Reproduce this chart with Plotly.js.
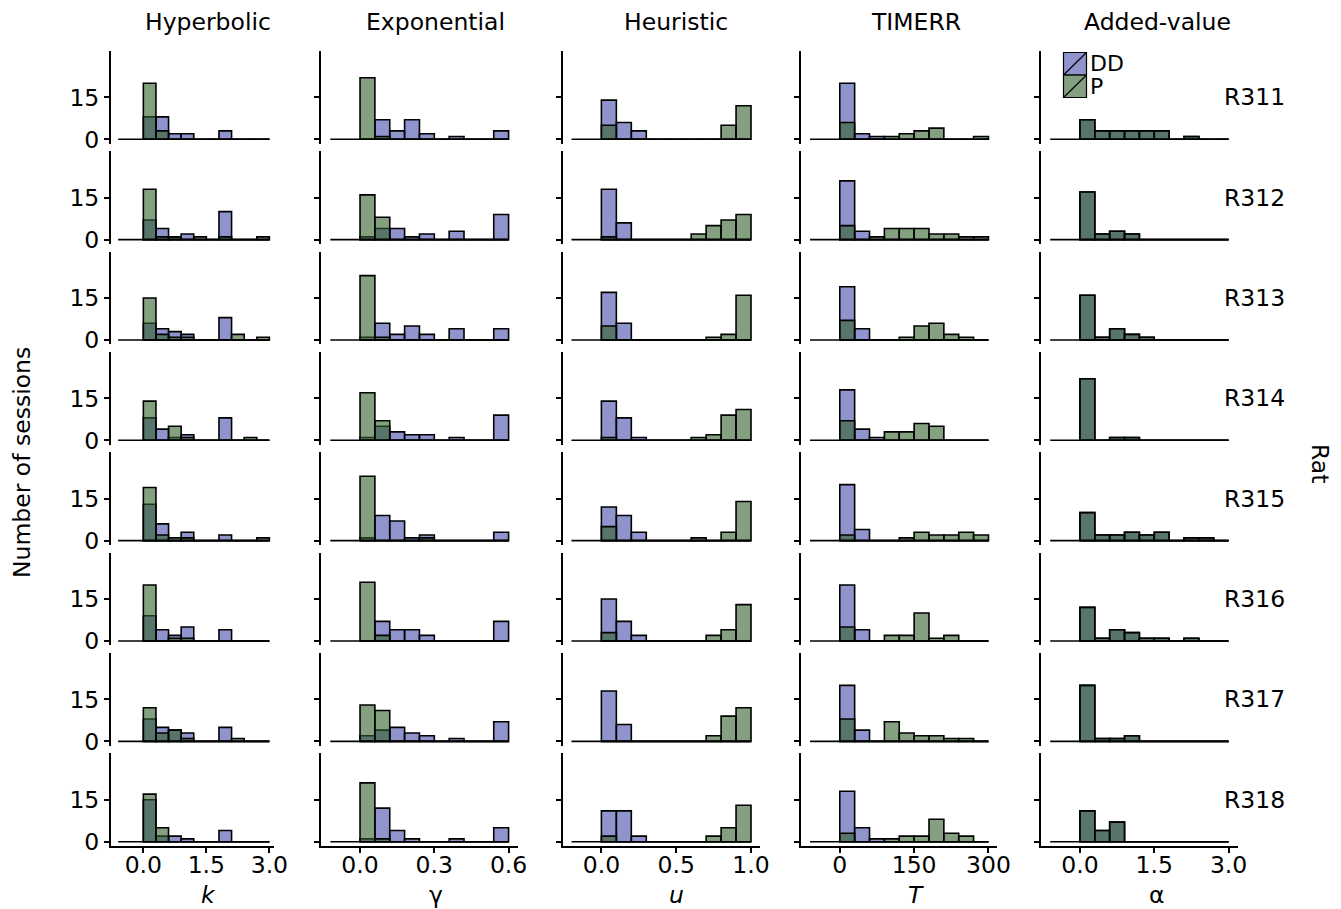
<!DOCTYPE html>
<html>
<head>
<meta charset="utf-8">
<script src="https://cdn.plot.ly/plotly-3.0.1.min.js"></script>
<style>html,body{margin:0;padding:0;background:#fff;}#chart{width:1341px;height:909px;}</style>
</head>
<body>
<div id="chart"></div>
<script>
// ---------- data ----------
const models = ["Hyperbolic", "Exponential", "Heuristic", "TIMERR", "Added-value"];
const rats = ["R311", "R312", "R313", "R314", "R315", "R316", "R317", "R318"];
const conditions = ["DD", "P"];

// bin edges per model parameter
const kEdges = [0, 0.3, 0.6, 0.9, 1.2, 1.5, 1.8, 2.1, 2.4, 2.7, 3.0];
const gammaEdges = [0, 0.06, 0.12, 0.18, 0.24, 0.30, 0.36, 0.42, 0.48, 0.54, 0.60];
const uEdges = [0, 0.1, 0.2, 0.3, 0.4, 0.5, 0.6, 0.7, 0.8, 0.9, 1.0];
const TEdges = [0, 30, 60, 90, 120, 150, 180, 210, 240, 270, 300];
const alphaEdges = [0, 0.3, 0.6, 0.9, 1.2, 1.5, 1.8, 2.1, 2.4, 2.7, 3.0];
// histogram span (includes empty bins)
const kSpan = [-0.6, 3.0];
const gammaSpan = [-0.12, 0.6];
const uSpan = [-0.2, 1.0];
const TSpan = [-60, 300];
const alphaSpan = [-0.6, 3.0];

// tick labels
const kTicks = [0, 1.5, 3.0], kTickText = ["0.0", "1.5", "3.0"];
const gammaTicks = [0, 0.3, 0.6], gammaTickText = ["0.0", "0.3", "0.6"];
const uTicks = [0, 0.5, 1.0], uTickText = ["0.0", "0.5", "1.0"];
const TTicks = [0, 150, 300], TTickText = ["0", "150", "300"];
const alphaTicks = [0, 1.5, 3.0], alphaTickText = ["0.0", "1.5", "3.0"];
const yTicks = [0, 15], yTickText = ["0", "15"];

// counts (rows = rats R311..R318)
const hypDD = [
  [8,8,2,2,0,0,3,0,0,0],
  [7,4,1,2,0,0,10,0,0,0],
  [6,4,3,2,0,0,8,0,0,0],
  [8,4,1,2,0,0,8,0,0,0],
  [13,6,0,3,0,0,2,0,0,0],
  [9,4,2,5,0,0,4,0,0,0],
  [8,5,4,3,0,0,5,0,0,0],
  [15,2,2,1,0,0,4,0,0,0]];
const hypP = [
  [20,3,0,0,0,0,0,0,0,0],
  [18,1,1,0,1,0,1,0,0,1],
  [15,2,1,1,0,0,0,2,0,1],
  [14,0,5,1,0,0,0,0,1,0],
  [19,2,1,1,0,0,0,0,0,1],
  [20,0,1,1,0,0,0,0,0,0],
  [12,3,4,1,0,0,0,1,0,0],
  [17,5,0,0,0,0,0,0,0,0]];
const expDD = [
  [0,7,3,7,2,0,1,0,0,3],
  [1,4,4,1,2,0,3,0,0,9],
  [1,6,2,5,2,0,4,0,0,4],
  [1,5,3,2,2,0,1,0,0,9],
  [1,9,7,1,2,0,0,0,0,3],
  [0,7,4,4,2,0,0,0,0,7],
  [2,4,5,3,2,0,1,0,0,7],
  [1,12,4,1,0,0,1,0,0,5]];
const expP = [
  [22,1,0,0,0,0,0,0,0,0],
  [16,8,0,0,0,0,0,0,0,0],
  [23,1,0,0,0,0,0,0,0,0],
  [17,7,0,0,0,0,0,0,0,0],
  [23,0,0,0,1,0,0,0,0,0],
  [21,2,0,0,0,0,0,0,0,0],
  [13,11,0,0,0,0,0,0,0,0],
  [21,1,0,0,0,0,0,0,0,0]];
const heuDD = [
  [14,6,3,0,0,0,0,0,0,0],
  [18,6,0,0,0,0,0,0,0,0],
  [17,6,0,0,0,0,0,0,0,0],
  [14,8,1,0,0,0,0,0,0,0],
  [12,9,3,0,0,0,0,0,0,0],
  [15,7,2,0,0,0,0,0,0,0],
  [18,6,0,0,0,0,0,0,0,0],
  [11,11,2,0,0,0,0,0,0,0]];
const heuP = [
  [5,0,0,0,0,0,0,0,5,12],
  [1,0,0,0,0,0,2,5,7,9],
  [5,0,0,0,0,0,0,1,2,16],
  [1,0,0,0,0,0,1,2,9,11],
  [5,0,0,0,0,0,1,0,3,14],
  [3,0,0,0,0,0,0,2,4,13],
  [0,0,0,0,0,0,0,2,9,12],
  [2,0,0,0,0,0,0,2,5,13]];
const timDD = [
  [20,2,1,0,0,0,0,0,0,0],
  [21,3,0,0,0,0,0,0,0,0],
  [19,4,0,0,0,0,0,0,0,0],
  [18,4,1,0,0,0,0,0,0,0],
  [20,4,0,0,0,0,0,0,0,0],
  [20,4,0,0,0,0,0,0,0,0],
  [20,4,0,0,0,0,0,0,0,0],
  [18,5,1,0,0,0,0,0,0,0]];
const timP = [
  [6,0,0,1,2,3,4,0,0,1],
  [5,0,1,4,4,4,2,2,1,1],
  [7,0,0,0,1,5,6,2,1,0],
  [7,0,0,3,3,6,5,0,0,0],
  [2,0,0,0,1,3,2,2,3,2],
  [5,0,0,2,2,10,1,2,0,0],
  [8,0,0,7,3,2,2,1,1,0],
  [3,0,0,1,2,2,8,3,2,0]];
// Added-value: DD and P histograms coincide
const addDD = [
  [7,3,3,3,3,3,0,1,0,0],
  [17,2,3,2,0,0,0,0,0,0],
  [16,1,4,2,1,0,0,0,0,0],
  [22,0,1,1,0,0,0,0,0,0],
  [10,2,2,3,2,3,0,1,1,0],
  [12,1,4,3,1,1,0,1,0,0],
  [20,1,1,2,0,0,0,0,0,0],
  [11,4,7,0,0,0,0,0,0,0]];
const addP = addDD;

// ---------- styling / layout ----------
const W = 1341, H = 909;
const FONT = "DejaVu Sans, Liberation Sans, Arial, sans-serif";
const FS = 23.5;
const ddFill = "rgba(68,77,170,0.6)";
const pFill = "rgba(52,97,43,0.6)";

const cols = [
  {edges: kEdges, span: kSpan, tv: kTicks, tt: kTickText, dd: hypDD, p: hypP, range: [-0.77, 3.11], L: 111, R: 274, cx: 208.5, xt: "<i>k</i>"},
  {edges: gammaEdges, span: gammaSpan, tv: gammaTicks, tt: gammaTickText, dd: expDD, p: expP, range: [-0.156, 0.636], L: 321.4, R: 517.5, cx: 435.5, xt: "γ"},
  {edges: uEdges, span: uSpan, tv: uTicks, tt: uTickText, dd: heuDD, p: heuP, range: [-0.26, 1.06], L: 562.5, R: 760, cx: 676, xt: "<i>u</i>"},
  {edges: TEdges, span: TSpan, tv: TTicks, tt: TTickText, dd: timDD, p: timP, range: [-78, 318], L: 801.1, R: 997.4, cx: 916, xt: "<i>T</i>"},
  {edges: alphaEdges, span: alphaSpan, tv: alphaTicks, tt: alphaTickText, dd: addDD, p: addP, range: [-0.78, 3.18], L: 1041.3, R: 1237.5, cx: 1157, xt: "α"}
];
const yRange = [-1.5, 31.5];
const base0 = 139.3, rowStep = 100.34, pxU = 2.8;

const traces = [];
const layout = {
  width: W, height: H,
  margin: {l: 0, r: 0, t: 0, b: 0},
  paper_bgcolor: "#ffffff", plot_bgcolor: "rgba(0,0,0,0)",
  barmode: "overlay", showlegend: false,
  font: {family: FONT, size: FS, color: "#000"},
  annotations: [], shapes: []
};

for (let r = 0; r < rats.length; r++) {
  const base = base0 + r * rowStep;
  const top = base - yRange[1] * pxU, bot = base - yRange[0] * pxU;
  for (let c = 0; c < cols.length; c++) {
    const col = cols[c];
    const idx = r * cols.length + c + 1;
    const xs = idx === 1 ? "" : String(idx);
    const centers = [], widths = [];
    for (let i = 0; i < col.edges.length - 1; i++) {
      centers.push((col.edges[i] + col.edges[i + 1]) / 2);
      widths.push(col.edges[i + 1] - col.edges[i]);
    }
    traces.push({type: "scatter", mode: "lines", x: col.span, y: [0, 0], xaxis: "x" + xs, yaxis: "y" + xs,
      line: {color: "#000", width: 1.6}, hoverinfo: "skip"});
    traces.push({type: "bar", name: conditions[0], x: centers, y: col.dd[r], width: widths, xaxis: "x" + xs, yaxis: "y" + xs,
      marker: {color: ddFill, line: {color: "#000", width: 1.6}}, hoverinfo: "skip"});
    traces.push({type: "bar", name: conditions[1], x: centers, y: col.p[r], width: widths, xaxis: "x" + xs, yaxis: "y" + xs,
      marker: {color: pFill, line: {color: "#000", width: 1.6}}, hoverinfo: "skip"});
    const isBottom = r === rats.length - 1;
    layout["xaxis" + xs] = {
      domain: [col.L / W, col.R / W], range: col.range, anchor: "y" + xs,
      showgrid: false, zeroline: false, showline: isBottom, linecolor: "#000", linewidth: 2,
      ticks: isBottom ? "outside" : "", ticklen: 5, tickwidth: 2, tickcolor: "#000",
      tickvals: col.tv, ticktext: col.tt, showticklabels: isBottom, ticklabelstandoff: -8,
      tickfont: {family: FONT, size: FS, color: "#000"}, fixedrange: true
    };
    layout["yaxis" + xs] = {
      domain: [1 - bot / H, 1 - top / H], range: yRange, anchor: "x" + xs,
      showgrid: false, zeroline: false, showline: true, linecolor: "#000", linewidth: 2,
      ticks: "outside", ticklen: 5, tickwidth: 2, tickcolor: "#000",
      tickvals: yTicks, ticktext: yTickText, showticklabels: c === 0,
      tickfont: {family: FONT, size: FS, color: "#000"}, fixedrange: true
    };
  }
  // rat strip label
  layout.annotations.push({text: rats[r], xref: "paper", yref: "paper", x: 1222 / W, y: 1 - (top + bot) / 2 / H,
    xanchor: "left", yanchor: "middle", showarrow: false, font: {family: FONT, size: FS, color: "#000"}});
}

// column titles and axis titles
cols.forEach((col, c) => {
  layout.annotations.push({text: models[c], xref: "paper", yref: "paper", x: col.cx / W, y: 1 - 22 / H,
    xanchor: "center", yanchor: "middle", showarrow: false, font: {family: FONT, size: FS, color: "#000"}});
  layout.annotations.push({text: col.xt, xref: "paper", yref: "paper", x: col.cx / W, y: 1 - 895 / H,
    xanchor: "center", yanchor: "middle", showarrow: false, font: {family: FONT, size: FS, color: "#000"}});
});
layout.annotations.push({text: "Number of sessions", xref: "paper", yref: "paper", x: 22 / W, y: 1 - 463 / H,
  textangle: -90, xanchor: "center", yanchor: "middle", showarrow: false, font: {family: FONT, size: FS, color: "#000"}});
layout.annotations.push({text: "Rat", xref: "paper", yref: "paper", x: 1320 / W, y: 1 - 463 / H,
  textangle: 90, xanchor: "center", yanchor: "middle", showarrow: false, font: {family: FONT, size: FS, color: "#000"}});

// legend (drawn manually, ggplot style keys)
const legendFills = [ddFill, pFill];
conditions.forEach((name, i) => {
  const y0 = 52.5 + i * 22.5, y1 = y0 + 22.5;
  layout.shapes.push({type: "rect", xref: "paper", yref: "paper", x0: 1063.5 / W, x1: 1086.5 / W,
    y0: 1 - y1 / H, y1: 1 - y0 / H, fillcolor: legendFills[i], line: {color: "#000", width: 1.2}});
  layout.shapes.push({type: "line", xref: "paper", yref: "paper", x0: 1063.5 / W, x1: 1086.5 / W,
    y0: 1 - y1 / H, y1: 1 - y0 / H, line: {color: "#000", width: 1.2}});
  layout.annotations.push({text: name, xref: "paper", yref: "paper", x: 1088 / W, y: 1 - (y0 + y1) / 2 / H,
    xanchor: "left", yanchor: "middle", showarrow: false, font: {family: FONT, size: 22, color: "#000"}});
});

Plotly.newPlot("chart", traces, layout, {displayModeBar: false, staticPlot: true});
</script>
</body>
</html>
